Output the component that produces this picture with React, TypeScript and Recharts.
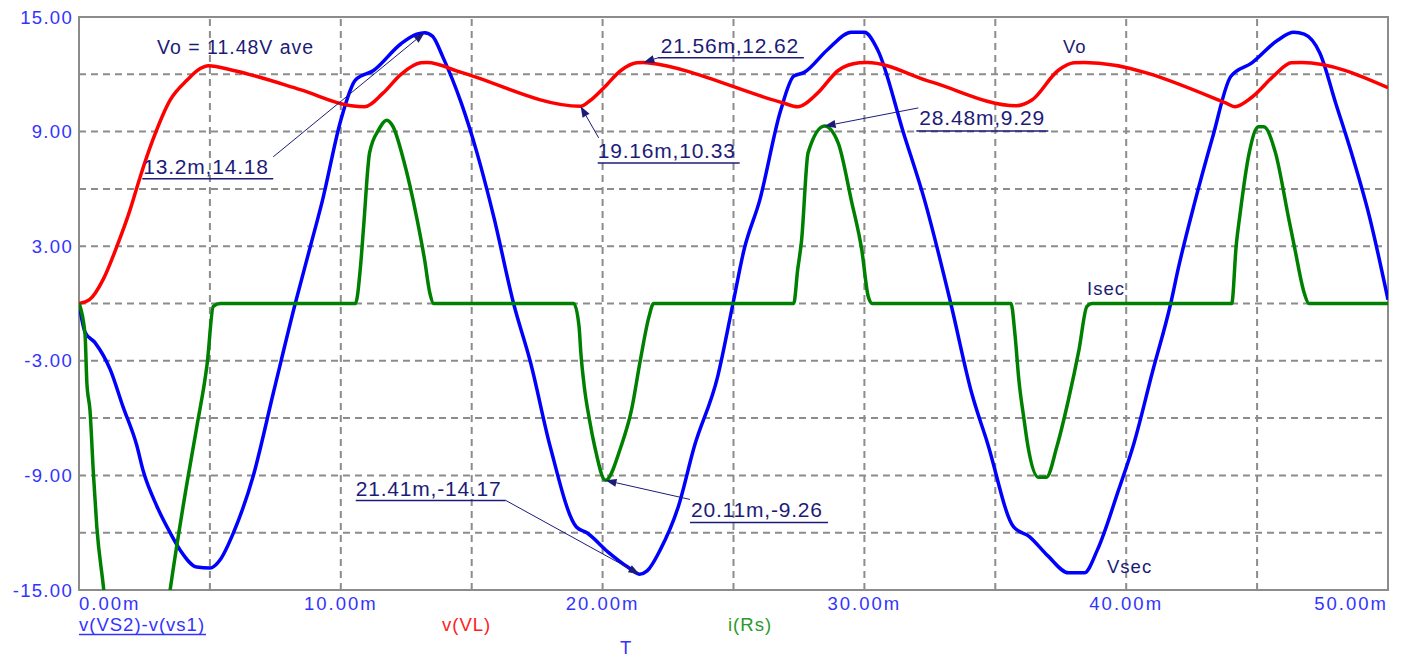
import { LineChart, Line, XAxis, YAxis, ReferenceLine, ReferenceArea } from "recharts";

const FONT = '"Liberation Sans", Arial, sans-serif';
const AXIS_BLUE = "#3333ff";
const NAVY = "#1c1c78";
const GRID = "#8c8c8c";

// time in ms, values in V / A
const vsecT = [0, 0.23, 0.61, 1.19, 1.68, 2.2, 2.46, 2.97, 3.48, 3.86, 4.5, 5.0, 5.4, 5.9, 6.66, 7.42, 8.26, 8.84, 9.3, 10.0, 10.56, 11.25, 12.3, 12.9, 13.2, 13.5, 13.9, 14.6, 15.2, 15.85, 16.6, 17.25, 18.0, 19.0, 19.4, 20.2, 20.96, 21.41, 21.7, 22.2, 22.9, 23.5, 24.4, 24.98, 25.4, 26.0, 26.8, 27.3, 27.7, 28.6, 29.5, 30.0, 30.5, 31.5, 32.3, 33.3, 34.1, 34.7, 35.7, 36.3, 37.0, 37.8, 38.4, 38.9, 39.7, 40.3, 41.0, 41.7, 42.0, 42.6, 43.3, 44.0, 44.8, 45.8, 46.4, 46.8, 47.4, 48.0, 48.6, 49.3, 50.0];
const vsecV = [0, -1.5, -2.05, -3.45, -5.4, -7.4, -8.8, -10.6, -12.0, -12.9, -13.8, -13.85, -13.4, -12.0, -9.0, -4.7, 0, 3.0, 5.4, 9.6, 11.7, 12.2, 13.6, 14.1, 14.18, 14.0, 12.9, 10.5, 7.9, 4.5, 0, -3.1, -7.5, -11.7, -12.0, -13.0, -13.8, -14.17, -14.0, -12.9, -10.6, -7.5, -3.8, 0, 2.8, 5.4, 10.1, 11.9, 12.1, 13.3, 14.2, 14.2, 13.3, 8.9, 5.4, 0, -4.7, -7.3, -11.7, -12.2, -13.2, -14.1, -14.1, -12.9, -9.8, -7.3, -3.6, 0, 1.9, 5.2, 8.7, 11.9, 12.6, 13.8, 14.2, 14.1, 13.1, 10.5, 7.9, 4.5, 0.2];

const voT = [0, 0.4, 0.92, 1.45, 1.95, 2.33, 2.83, 3.48, 4.13, 4.63, 4.94, 5.9, 8.45, 10.4, 10.9, 11.6, 12.3, 13.05, 13.3, 14.6, 19.16, 19.5, 20.05, 20.7, 21.3, 21.56, 21.7, 26.9, 27.45, 28.2, 29.0, 29.8, 30.1, 32.55, 35.8, 36.4, 37.4, 38.0, 38.4, 43.8, 44.15, 44.8, 45.7, 46.3, 46.7, 50.0];
const voV = [0, 0.2, 1.25, 3.0, 4.9, 6.6, 8.6, 10.65, 11.7, 12.3, 12.45, 12.2, 11.2, 10.35, 10.3, 11.0, 12.0, 12.6, 12.62, 12.1, 10.33, 10.6, 11.3, 12.2, 12.6, 12.62, 12.6, 10.5, 10.3, 11.0, 12.2, 12.6, 12.62, 11.6, 10.35, 10.65, 12.2, 12.6, 12.62, 10.5, 10.3, 10.8, 12.0, 12.6, 12.62, 11.3];

const isecT = [0, 0.23, 0.3, 0.42, 0.55, 0.68, 0.93, 1.3, 2.0, 2.8, 3.48, 4.1, 4.5, 4.9, 5.13, 5.4, 10.56, 10.75, 10.87, 11.1, 11.45, 11.75, 12.0, 12.4, 12.9, 13.2, 13.4, 13.55, 18.9, 19.1, 19.17, 19.3, 19.5, 19.7, 20.11, 20.7, 21.1, 21.45, 21.77, 21.95, 27.3, 27.45, 27.6, 27.85, 28.48, 29.0, 29.5, 29.9, 30.15, 30.3, 35.6, 35.75, 35.9, 36.1, 36.25, 36.65, 36.95, 37.35, 37.8, 38.2, 38.5, 38.7, 44.03, 44.2, 44.35, 44.7, 45.05, 45.25, 45.7, 46.2, 46.45, 46.8, 46.98, 50.0];
const isecV = [0, -1.6, -4.15, -5.6, -8.9, -11.7, -14.8, -20, -26, -22, -15, -9.6, -6.45, -3.1, -0.15, 0, 0, 1.9, 4.0, 7.9, 9.1, 9.6, 9.25, 7.5, 4.5, 2.3, 0.55, 0, 0, -1.2, -2.6, -4.35, -6.1, -7.5, -9.26, -7.5, -5.6, -2.9, -0.7, 0, 0, 1.75, 3.3, 7.9, 9.29, 8.4, 5.4, 2.8, 0.35, 0, 0, -1.6, -4.0, -6.1, -7.5, -9.1, -9.1, -7.5, -5.0, -2.4, -0.15, 0, 0, 3.0, 4.7, 7.9, 9.25, 9.25, 7.9, 4.5, 2.8, 0.55, 0, 0];

const xTicks = [0, 10, 20, 30, 40, 50];
const yTicks = [-15, -9, -3, 3, 9, 15];
const gridT = [5, 10, 15, 20, 25, 30, 35, 40, 45];
const gridV = [-12, -9, -6, -3, 0, 3, 6, 9, 12];

// cursor markers
const markerT = [13.2, 19.16, 21.56, 28.48, 21.41, 20.11];
const markerV = [14.18, 10.33, 12.62, 9.29, -14.17, -9.26];
// where each leader line starts (chart units)
const leaderT = [7.42, 19.85, 22.11, 32.06, 16.3, 23.34];
const leaderV = [7.68, 8.67, 12.86, 10.24, -10.31, -10.26];
// label placement relative to leader start, px: text dx, baseline dy, underline dy, underline x from, to
const calloutBox = [
  [-130, 17, 22, -131, 0],
  [-1, 20, 25, -1, 141],
  [3, -5, 0, 0, 146],
  [1, 17, 23, -2, 130],
  [-150, -4, 0, -150, 0],
  [1, 18, 23, 0, 138],
];

const toPoints = (ts: number[], vs: number[]) => ts.map((t, i) => ({ t, v: vs[i] }));
const vsec = toPoints(vsecT, vsecV);
const vo = toPoints(voT, voV);
const isec = toPoints(isecT, isecV);

const XTick = (p: any) => {
  const v = p.payload.value;
  const anchor = v === 0 ? "start" : v === 50 ? "end" : "middle";
  return (
    <text x={p.x} y={p.y} dy={12} textAnchor={anchor} fill={AXIS_BLUE} fontSize={18.5} fontFamily={FONT} letterSpacing={2}>
      {v.toFixed(2)}m
    </text>
  );
};

const YTick = (p: any) => (
  <text x={p.x} y={p.y} dy={6.5} textAnchor="end" fill={AXIS_BLUE} fontSize={18.5} fontFamily={FONT} letterSpacing={1.3}>
    {p.payload.value.toFixed(2)}
  </text>
);

const Callout = (p: any) => {
  const { x1, y1, x2, y2, idx } = p;
  if (x1 == null) return null;
  const [dx, dy, uy, u1, u2] = calloutBox[idx];
  const len = Math.hypot(x2 - x1, y2 - y1);
  const ux = (x2 - x1) / len;
  const uyy = (y2 - y1) / len;
  const bx = x2 - ux * 11;
  const by = y2 - uyy * 11;
  const px = -uyy * 4;
  const py = ux * 4;
  return (
    <g>
      <line x1={x1} y1={y1} x2={bx} y2={by} stroke={NAVY} strokeWidth={1} />
      <polygon points={`${x2},${y2} ${bx + px},${by + py} ${bx - px},${by - py}`} fill={NAVY} />
      <line x1={x1 + u1} y1={y1 + uy} x2={x1 + u2} y2={y1 + uy} stroke={NAVY} strokeWidth={1.5} />
      <text x={x1 + dx} y={y1 + dy} fill={NAVY} fontSize={21} fontFamily={FONT} letterSpacing={0.8}>
        {`${markerT[idx]}m,${markerV[idx]}`}
      </text>
    </g>
  );
};

export default function App() {
  return (
    <div style={{ position: "absolute", left: 0, top: 0, width: 1403, height: 657, background: "#fff", overflow: "hidden" }}>
      <LineChart width={1400} height={657} margin={{ top: 17, right: 12, bottom: 37, left: 0 }}>
        <XAxis
          type="number"
          dataKey="t"
          domain={[0, 50]}
          ticks={xTicks}
          allowDataOverflow
          height={30}
          tickLine={false}
          axisLine={false}
          tickSize={0}
          tickMargin={8}
          tick={XTick}
        />
        <YAxis
          type="number"
          dataKey="v"
          domain={[-15, 15]}
          ticks={yTicks}
          allowDataOverflow
          width={79}
          tickLine={false}
          axisLine={false}
          tickSize={0}
          tickMargin={6}
          tick={YTick}
        />
        {gridT.map((t) => (
          <ReferenceLine key={`gx${t}`} x={t} stroke={GRID} strokeWidth={2} strokeDasharray="7 5" />
        ))}
        {gridV.map((v) => (
          <ReferenceLine key={`gy${v}`} y={v} stroke={GRID} strokeWidth={2} strokeDasharray="7 5" />
        ))}
        <ReferenceArea x1={0} x2={50} y1={-15} y2={15} fill="none" fillOpacity={0} stroke={GRID} strokeWidth={2} />
        <Line data={vsec} dataKey="v" type="monotone" stroke="#0000ff" strokeWidth={3.5} dot={false} isAnimationActive={false} />
        <Line data={vo} dataKey="v" type="monotone" stroke="#ff0000" strokeWidth={3.5} dot={false} isAnimationActive={false} />
        <Line data={isec} dataKey="v" type="monotone" stroke="#008000" strokeWidth={3.5} dot={false} isAnimationActive={false} />
        {markerT.map((t, i) => (
          <ReferenceLine
            key={`c${i}`}
            segment={[
              { x: leaderT[i], y: leaderV[i] },
              { x: t, y: markerV[i] },
            ]}
            stroke={NAVY}
            shape={(p: any) => <Callout {...p} idx={i} />}
          />
        ))}
      </LineChart>
      <svg width={1403} height={657} style={{ position: "absolute", left: 0, top: 0, pointerEvents: "none" }} fontFamily={FONT}>
        <text x={157} y={54} fill={NAVY} fontSize={19.5} letterSpacing={1}>Vo = 11.48V ave</text>
        <text x={1063} y={53} fill={NAVY} fontSize={18.5} letterSpacing={1}>Vo</text>
        <text x={1087} y={295} fill={NAVY} fontSize={18.5} letterSpacing={1}>Isec</text>
        <text x={1107} y={573} fill={NAVY} fontSize={18.5} letterSpacing={1}>Vsec</text>
        <text x={79} y={631} fill={AXIS_BLUE} fontSize={18.5} letterSpacing={1}>v(VS2)-v(vs1)</text>
        <line x1={79} y1={634.5} x2={206} y2={634.5} stroke={AXIS_BLUE} strokeWidth={1.5} />
        <text x={442} y={631} fill="#ff2020" fontSize={18.5} letterSpacing={1}>v(VL)</text>
        <text x={728} y={631} fill="#2a9a2a" fontSize={18.5} letterSpacing={1}>i(Rs)</text>
        <text x={620} y={654} fill={AXIS_BLUE} fontSize={18.5}>T</text>
      </svg>
    </div>
  );
}
